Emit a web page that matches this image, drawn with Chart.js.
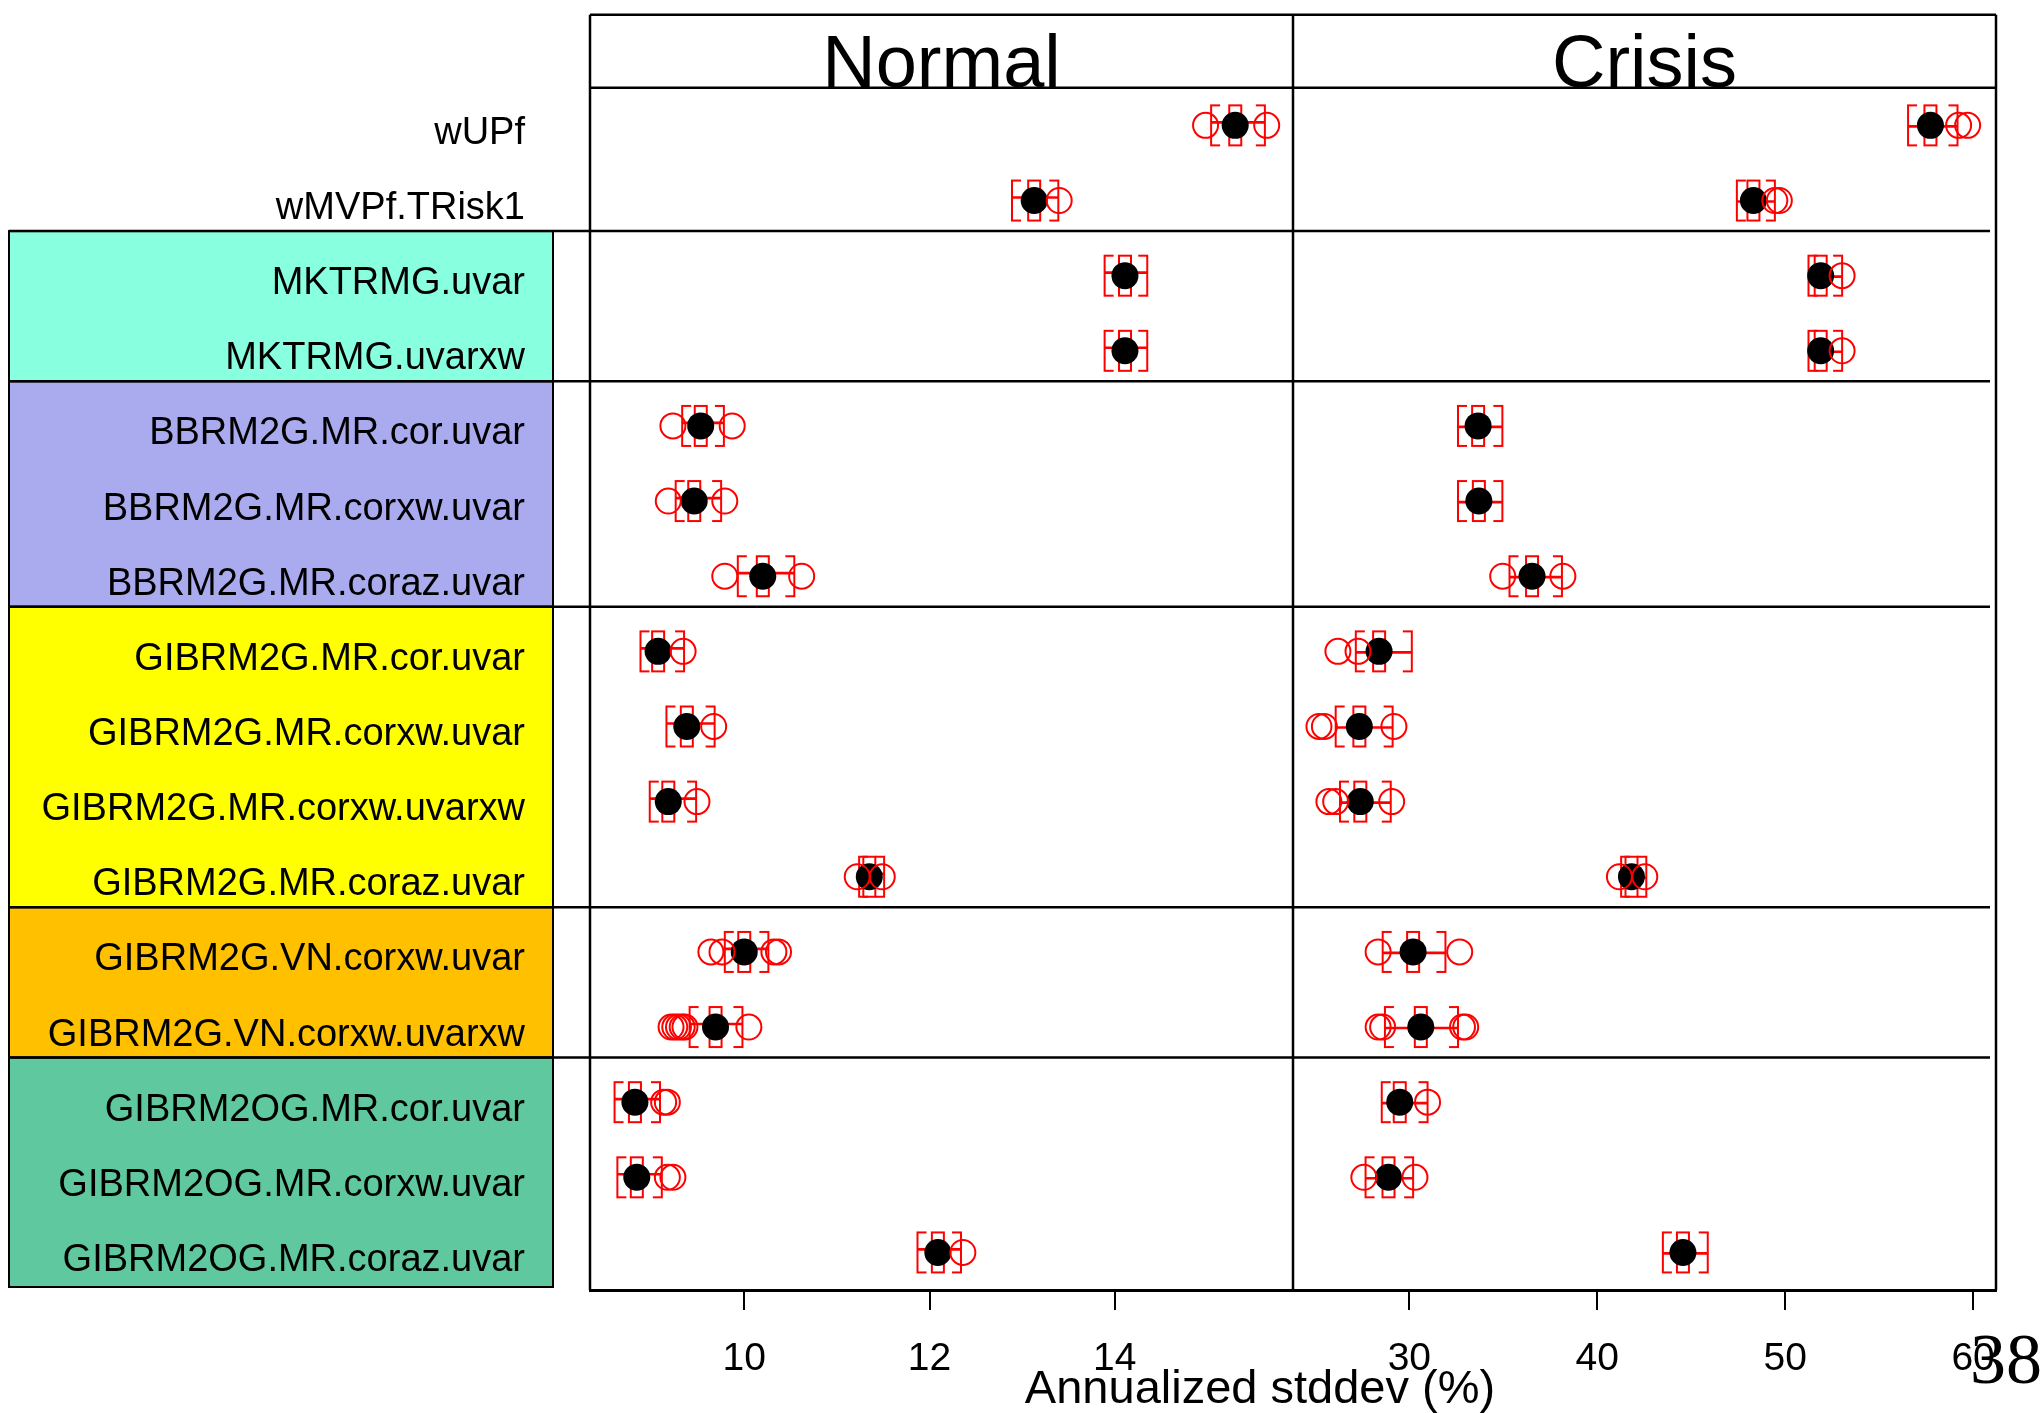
<!DOCTYPE html>
<html><head><meta charset="utf-8">
<script src="https://cdn.jsdelivr.net/npm/chart.js@4.4.1/dist/chart.umd.min.js"></script>
<style>html,body{margin:0;padding:0;background:#fff;} #wrap{width:2042px;height:1413px;position:relative;}</style>
</head><body><div id="wrap"><canvas id="c" width="2042" height="1413"></canvas></div>
<script>
// ---------------- data ----------------
const labels = ['wUPf','wMVPf.TRisk1','MKTRMG.uvar','MKTRMG.uvarxw','BBRM2G.MR.cor.uvar','BBRM2G.MR.corxw.uvar','BBRM2G.MR.coraz.uvar','GIBRM2G.MR.cor.uvar','GIBRM2G.MR.corxw.uvar','GIBRM2G.MR.corxw.uvarxw','GIBRM2G.MR.coraz.uvar','GIBRM2G.VN.corxw.uvar','GIBRM2G.VN.corxw.uvarxw','GIBRM2OG.MR.cor.uvar','GIBRM2OG.MR.corxw.uvar','GIBRM2OG.MR.coraz.uvar'];

const normalDot = [15.30, 13.13, 14.11, 14.11, 9.53, 9.46, 10.20, 9.07, 9.38, 9.18, 11.35, 10.00, 9.69, 8.82, 8.84, 12.09];
const normalLo  = [15.04, 12.89, 13.89, 13.89, 9.33, 9.26, 9.93, 8.88, 9.16, 8.98, 11.24, 9.79, 9.41, 8.60, 8.63, 11.87];
const normalHi  = [15.62, 13.39, 14.35, 14.35, 9.78, 9.75, 10.54, 9.35, 9.68, 9.48, 11.51, 10.26, 9.98, 9.09, 9.11, 12.34];
const normalCircles = [[14.98, 15.64], [13.40], [], [], [9.23, 9.87], [9.18, 9.79], [9.79, 10.62], [9.34], [9.67], [9.49], [11.22, 11.49], [9.64, 9.76, 10.32, 10.37], [9.21, 9.25, 9.29, 9.33, 9.36, 10.05], [9.13, 9.17], [9.17, 9.23], [12.36]];

const crisisDot = [57.73, 48.31, 51.89, 51.89, 33.66, 33.70, 36.53, 28.39, 27.34, 27.39, 41.82, 30.20, 30.61, 29.49, 28.89, 44.56];
const crisisLo  = [56.54, 47.43, 51.24, 51.24, 32.59, 32.59, 35.33, 27.15, 26.08, 26.31, 41.27, 28.58, 28.70, 28.53, 27.67, 43.49];
const crisisHi  = [59.17, 49.45, 53.03, 53.03, 34.95, 34.95, 38.12, 30.13, 29.11, 29.01, 42.61, 31.92, 32.59, 30.97, 30.20, 45.88];
const crisisCircles = [[59.23, 59.71], [49.45, 49.69], [53.03], [53.03], [], [], [34.97, 38.17], [26.20, 27.27], [25.19, 25.48, 29.18], [25.72, 26.08, 29.06], [41.18, 42.53], [28.34, 32.68], [28.34, 28.58, 32.83, 33.00], [30.97], [27.58, 30.30], []];

const normalRange = [8.335, 15.924];
const crisisRange = [23.81, 61.22];
const normalTickStep = 2;
const crisisTickStep = 10;

const panelTitles = ['Normal', 'Crisis'];
const axisTitle = 'Annualized stddev (%)';
const pageNumber = '38';

const groupColors = ['#88FFDF', '#AAAAEE', '#FFFF00', '#FFC000', '#5FC89F'];
const groupFirstRow = [2, 4, 7, 11, 13];
const groupLastRow  = [3, 6, 10, 12, 15];
const separatorAfterRow = [1, 3, 6, 10, 12];

// ---------------- marker images ----------------
const RED = '#FF0000';
function bracketImg(side) {
  const cap = 9, h = 41;
  const c = document.createElement('canvas');
  c.width = 2 * cap + 2; c.height = h + 3;
  const g = c.getContext('2d');
  g.strokeStyle = RED; g.lineWidth = 2;
  const xm = cap + 1;
  g.beginPath();
  g.moveTo(xm, 1); g.lineTo(xm, h + 2);
  const xe = side === 'left' ? xm + cap : xm - cap;
  g.moveTo(xm, 2); g.lineTo(xe, 2);
  g.moveTo(xm, h + 1); g.lineTo(xe, h + 1);
  g.stroke();
  return c;
}
function boxImg() {
  const c = document.createElement('canvas');
  c.width = 16; c.height = 44;
  const g = c.getContext('2d');
  g.strokeStyle = RED; g.lineWidth = 2;
  g.strokeRect(2, 2, 12, 40);
  return c;
}
const leftBr = bracketImg('left'), rightBr = bracketImg('right'), midBox = boxImg();

// ---------------- datasets ----------------
function pts(vals) { return vals.map((v, i) => ({x: v, y: labels[i]})); }
function circlePts(lists) {
  const out = [];
  lists.forEach((arr, i) => arr.forEach(v => out.push({x: v, y: labels[i]})));
  return out;
}
function panelSets(axis, dot, lo, hi, circles) {
  return [
    {type: 'bar', indexAxis: 'y', xAxisID: axis, yAxisID: 'y', data: lo.map((v, i) => [v, hi[i]]),
     backgroundColor: RED, barThickness: 2, borderWidth: 0, order: 4},
    {type: 'scatter', xAxisID: axis, yAxisID: 'y', data: pts(lo), pointStyle: leftBr, pointRadius: 5, order: 3},
    {type: 'scatter', xAxisID: axis, yAxisID: 'y', data: pts(hi), pointStyle: rightBr, pointRadius: 5, order: 3},
    {type: 'scatter', xAxisID: axis, yAxisID: 'y', data: pts(dot), pointStyle: midBox, pointRadius: 5, order: 3},
    {type: 'scatter', xAxisID: axis, yAxisID: 'y', data: pts(dot), pointStyle: 'circle', pointRadius: 13.5,
     backgroundColor: '#000', borderWidth: 0, order: 2},
    {type: 'scatter', xAxisID: axis, yAxisID: 'y', data: circlePts(circles), pointStyle: 'circle', pointRadius: 12.5,
     backgroundColor: 'rgba(0,0,0,0)', borderColor: RED, borderWidth: 2, order: 1}
  ];
}

// ---------------- decorations ----------------
const deco = {
  id: 'deco',
  beforeDraw(chart) {
    const {ctx, chartArea: ca, scales} = chart;
    const y = scales.y, xC = scales.xC;
    const sep = i => (y.getPixelForValue(i) + y.getPixelForValue(i + 1)) / 2 - 7;
    ctx.save();
    groupFirstRow.forEach((s, g) => {
      const top = sep(s - 1);
      const bottom = g === groupFirstRow.length - 1 ? ca.bottom - 3 : sep(groupLastRow[g]);
      ctx.fillStyle = groupColors[g];
      ctx.fillRect(9, top, 544, bottom - top);
      ctx.strokeStyle = '#000'; ctx.lineWidth = 2;
      ctx.strokeRect(9, top, 544, bottom - top);
    });
    ctx.strokeStyle = '#000';
    ctx.lineWidth = 2.5;
    const line = (a, b, c, d) => { ctx.beginPath(); ctx.moveTo(a, b); ctx.lineTo(c, d); ctx.stroke(); };
    separatorAfterRow.forEach(i => { const yy = sep(i); line(9, yy, ca.right - 6, yy); });
    const frameTop = ca.top - 73;
    line(ca.left, frameTop, ca.right, frameTop);
    line(ca.left, ca.top, ca.right, ca.top);
    line(ca.left, frameTop, ca.left, ca.bottom);
    line(ca.right, frameTop, ca.right, ca.bottom);
    line(xC.left, frameTop, xC.left, ca.bottom);
    ctx.restore();
  },
  afterDraw(chart) {
    const {ctx, chartArea: ca, scales} = chart;
    const xN = scales.xN, xC = scales.xC;
    ctx.save();
    ctx.fillStyle = '#000';
    ctx.textAlign = 'center';
    ctx.textBaseline = 'alphabetic';
    ctx.font = "74px 'Liberation Sans', Arial, sans-serif";
    ctx.fillText(panelTitles[0], (xN.left + xN.right) / 2, ca.top - 1);
    ctx.fillText(panelTitles[1], (xC.left + xC.right) / 2, ca.top - 1);
    ctx.font = "47px 'Liberation Sans', Arial, sans-serif";
    ctx.fillText(axisTitle, ca.left + 670, ca.bottom + 113);
    ctx.textAlign = 'left';
    ctx.font = "72px 'Liberation Serif', 'Times New Roman', serif";
    ctx.fillText(pageNumber, ca.right - 26, ca.bottom + 93);
    ctx.restore();
  }
};

Chart.defaults.font.family = "'Liberation Sans', Arial, sans-serif";
Chart.defaults.color = '#000';

const xAxis = (range, step) => ({
  type: 'linear', position: 'bottom', stack: 'panels', stackWeight: 1,
  min: range[0], max: range[1], offset: false,
  grid: {offset: false, drawOnChartArea: false, drawTicks: true, tickLength: 20, color: '#000', lineWidth: 2},
  border: {display: true, color: '#000', width: 3},
  ticks: {stepSize: step, includeBounds: false, autoSkip: false, maxRotation: 0, padding: 26,
          font: {size: 39}, color: '#000'},
  afterFit: s => { s.height = 123; }
});

new Chart(document.getElementById('c'), {
  type: 'bar',
  data: {
    labels: labels,
    datasets: [
      ...panelSets('xN', normalDot, normalLo, normalHi, normalCircles),
      ...panelSets('xC', crisisDot, crisisLo, crisisHi, crisisCircles)
    ]
  },
  options: {
    responsive: false,
    devicePixelRatio: 1,
    animation: false,
    events: [],
    layout: {padding: {top: 86, right: 46, bottom: 0, left: 0}},
    plugins: {legend: {display: false}, tooltip: {enabled: false}},
    scales: {
      y: {type: 'category', position: 'left', labels: labels, offset: true,
          grid: {display: false, drawTicks: false}, border: {display: false},
          ticks: {autoSkip: false, padding: 65, labelOffset: 8, font: {size: 38}, color: '#000'},
          afterFit: s => { s.width = 590; }},
      xN: xAxis(normalRange, normalTickStep),
      xC: xAxis(crisisRange, crisisTickStep)
    }
  },
  plugins: [deco]
});
</script>
</body></html>
